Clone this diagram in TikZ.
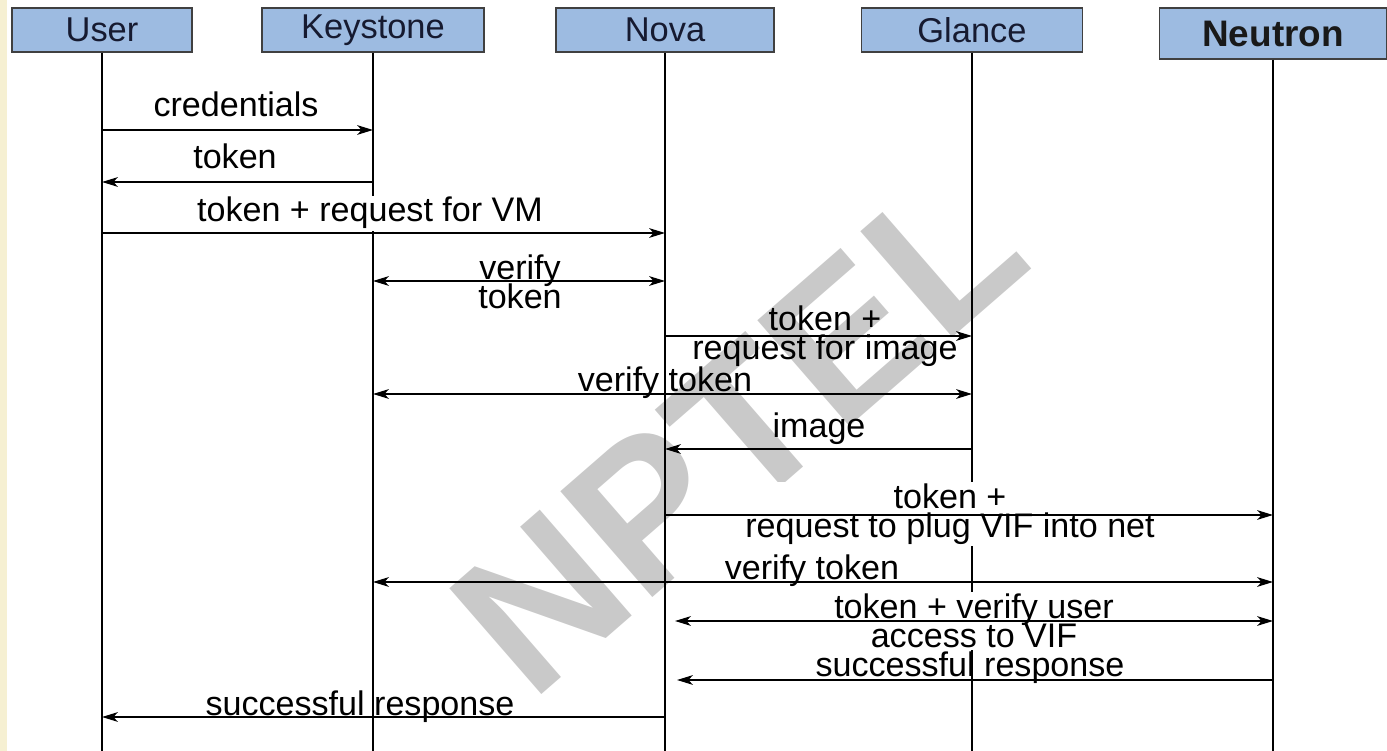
\documentclass[tikz,border=0pt]{standalone}
\usepackage{fontspec}
\setmainfont{Liberation Sans}
\usepackage{xcolor}
\usetikzlibrary{arrows.meta,calc}
\definecolor{boxblue}{RGB}{157,187,225}
\definecolor{boxtext}{RGB}{22,26,48}
\definecolor{sidestrip}{RGB}{246,240,210}

\begin{document}
\begin{tikzpicture}[
    >={Stealth[length=9pt,width=5.5pt,inset=2.5pt]},
    actor/.style={draw=black!75, line width=0.8pt, fill=boxblue, text=boxtext, minimum height=0.88cm, inner sep=0pt, font=\fontsize{19.6pt}{20pt}\selectfont},
    lifeline/.style={line width=1.5pt},
    msg/.style={line width=1.1pt},
    msgtext/.style={inner sep=1pt, align=center, font={\fontsize{19.4pt}{16.5pt}\selectfont\lineskiplimit=-20pt}},
    blank/.style={msgtext, fill=white},
    wmark/.style={text=black!21, inner sep=0pt, font=\fontsize{116pt}{116pt}\selectfont\bfseries}
]
\useasboundingbox (0,0) rectangle (27.74,-15.02);
\fill[sidestrip] (0,0) rectangle (0.14,-15.02);
\coordinate (bottom) at (0,-15.02);

% watermark
\node[wmark, rotate=41] (wm) at (14.76,-8.62) {NPTEL};

% participants
\node[actor, minimum width=3.60cm] (user)     at (2.04,-0.60)  {User};
\node[actor, minimum width=4.44cm] (keystone) at (7.46,-0.60)  {Keystone};
\node[actor, minimum width=4.36cm] (nova)     at (13.30,-0.60) {Nova};
\node[actor, minimum width=4.42cm] (glance)   at (19.44,-0.60) {Glance};
\node[actor, minimum width=4.54cm, minimum height=1.02cm, text=black!90, font=\fontsize{21pt}{22pt}\selectfont\bfseries] (neutron) at (25.46,-0.67) {Neutron};

\foreach \p in {user,keystone,nova,glance,neutron}
    \draw[lifeline] (\p.south) -- (\p |- bottom);

% message texts
\node[msgtext, anchor=base] (t1)  at (4.72,-2.34)   {credentials};
\node[msgtext, anchor=base] (t2)  at (4.70,-3.38)   {token};
\node[blank, anchor=base]   (t3)  at (7.40,-4.44)   {token + request for VM};
\node[msgtext]              (t4)  at (10.40,-5.64)  {verify\\token};
\node[msgtext]              (t5)  at (16.50,-6.72)  {token +\\request for image};
\node[msgtext, anchor=base] (t6)  at (13.30,-7.84)  {verify token};
\node[msgtext, anchor=base] (t7)  at (16.38,-8.76)  {image};
\node[blank]                (t8)  at (19.00,-10.28) {token +\\request to plug VIF into net};
\node[msgtext, anchor=base] (t9)  at (16.24,-11.58) {verify token};
\node[blank]                (t10) at (19.48,-12.42) {token + verify user\\access to VIF};
\node[msgtext, anchor=base] (t11) at (19.40,-13.52) {successful response};
\node[msgtext, anchor=base] (t12) at (7.20,-14.30)  {successful response};

% messages
\draw[msg, ->]  (user |- 0,-2.60)      -- (keystone |- 0,-2.60);
\draw[msg, ->]  (keystone |- 0,-3.64)  -- (user |- 0,-3.64);
\draw[msg, ->]  (user |- 0,-4.66)      -- (nova |- 0,-4.66);
\draw[msg, <->] (keystone |- 0,-5.62)  -- (nova |- 0,-5.62);
\draw[msg, ->]  (nova |- 0,-6.72)      -- (glance |- 0,-6.72);
\draw[msg, <->] (keystone |- 0,-7.88)  -- (glance |- 0,-7.88);
\draw[msg, ->]  (glance |- 0,-8.98)    -- (nova |- 0,-8.98);
\draw[msg, ->]  (nova |- 0,-10.30)     -- (neutron |- 0,-10.30);
\draw[msg, <->] (keystone |- 0,-11.64) -- (neutron |- 0,-11.64);
\draw[msg, <->, shorten <=0.2cm] (nova |- 0,-12.42) -- (neutron |- 0,-12.42);
\draw[msg, ->, shorten >=0.24cm] (neutron |- 0,-13.60) -- (nova |- 0,-13.60);
\draw[msg, ->]  (nova |- 0,-14.34)     -- (user |- 0,-14.34);
\end{tikzpicture}
\end{document}
